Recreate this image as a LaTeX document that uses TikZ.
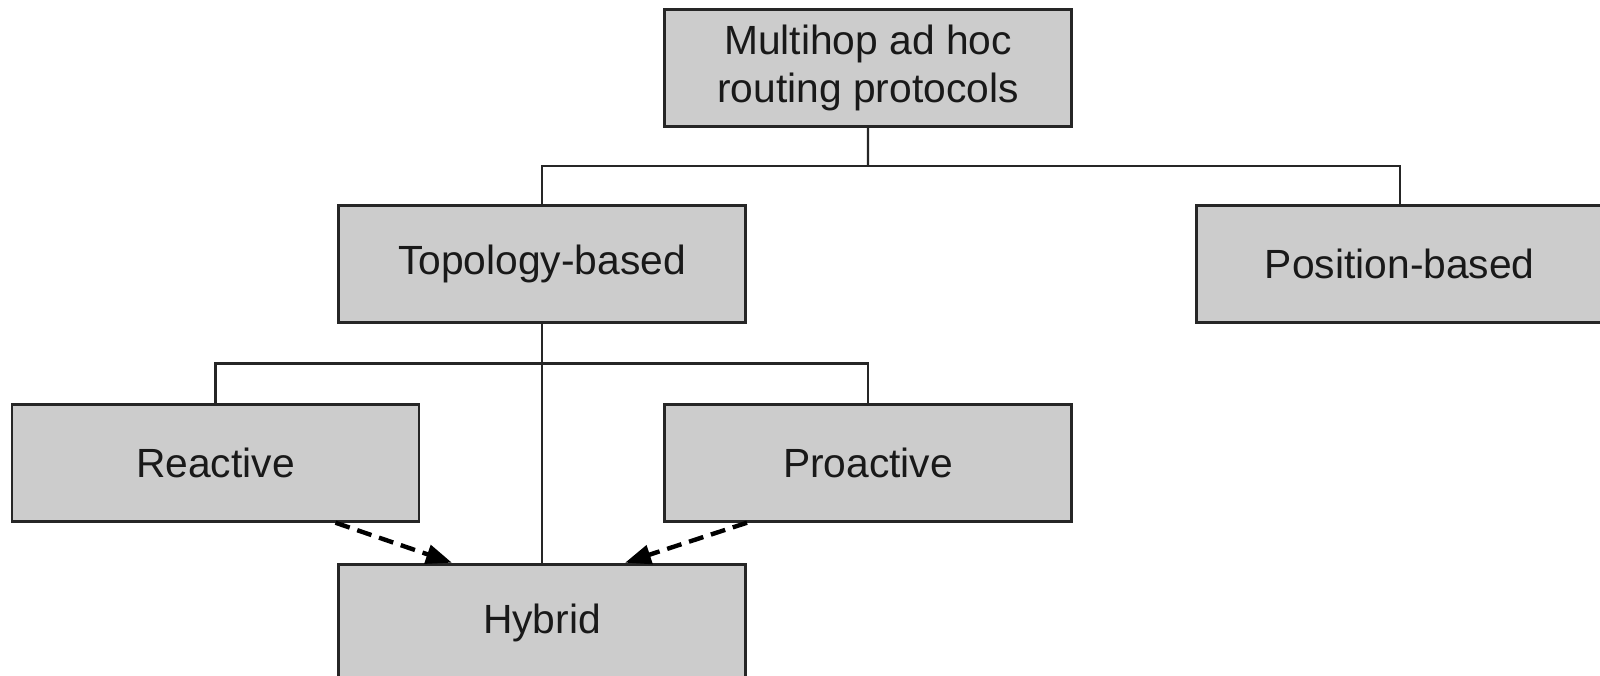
\documentclass[tikz,border=0pt]{standalone}
\usepackage{fontspec}
\setmainfont{Liberation Sans}
\usepackage{tikz}
\usetikzlibrary{arrows.meta, calc, positioning}
\tikzstyle{block} = [rectangle, line width=0.8pt, minimum width=4.07cm, minimum height=1.17cm, inner sep=0pt, text centered, align=center, fill=black!20, draw=black!85, text=black!90, font=\fontsize{11.6}{13.6}\selectfont]
\tikzstyle{tree} = [line width=0.7pt, draw=black!85]
\tikzstyle{dasharrow} = [line width=1.25pt, dash pattern=on 0.15cm off 0.08cm, -{Triangle[length=0.26cm, width=0.19cm]}]

\begin{document}
\begin{tikzpicture}[node distance = 10mm, auto]
		\useasboundingbox (0,0) rectangle (16,-6.76);
		\node (Topology) [block] at (5.42,-2.64) {Topology-based};
		\node (Position) [block, right = 4.48cm of Topology] {Position-based};
		\node (Reactive) [block, below = 0.79cm of Topology, xshift=-3.265cm] {Reactive};
		\node (Proactive) [block, below = 0.79cm of Topology, xshift=3.26cm] {Proactive};
		\node (Multihop) [block, above = 2.75cm of Proactive] {Multihop ad hoc\\routing protocols};
		\node (Hybrid) [block, below = 0.4cm of Reactive.south -| Topology, anchor=north] {Hybrid};

		\coordinate (Split1) at ($(Multihop.south)!0.5!(Multihop.south |- Topology.north)$);
		\coordinate (Split2) at ($(Topology.south)!0.5!(Topology.south |- Reactive.north)$);

		\draw [tree] (Multihop.south) -- (Split1);
		\draw [tree] (Topology.north) |- (Split1) -| (Position.north);
		\draw [tree] (Topology.south) -- (Hybrid.north);
		\draw [tree] (Reactive.north) |- (Split2) -| (Proactive.north);

		\draw [dasharrow] ([xshift=1.2cm]Reactive.south) -- ([xshift=-0.9cm]Hybrid.north);
		\draw [dasharrow] ([xshift=-1.21cm]Proactive.south) -- ([xshift=0.83cm]Hybrid.north);
\end{tikzpicture}
\end{document}
